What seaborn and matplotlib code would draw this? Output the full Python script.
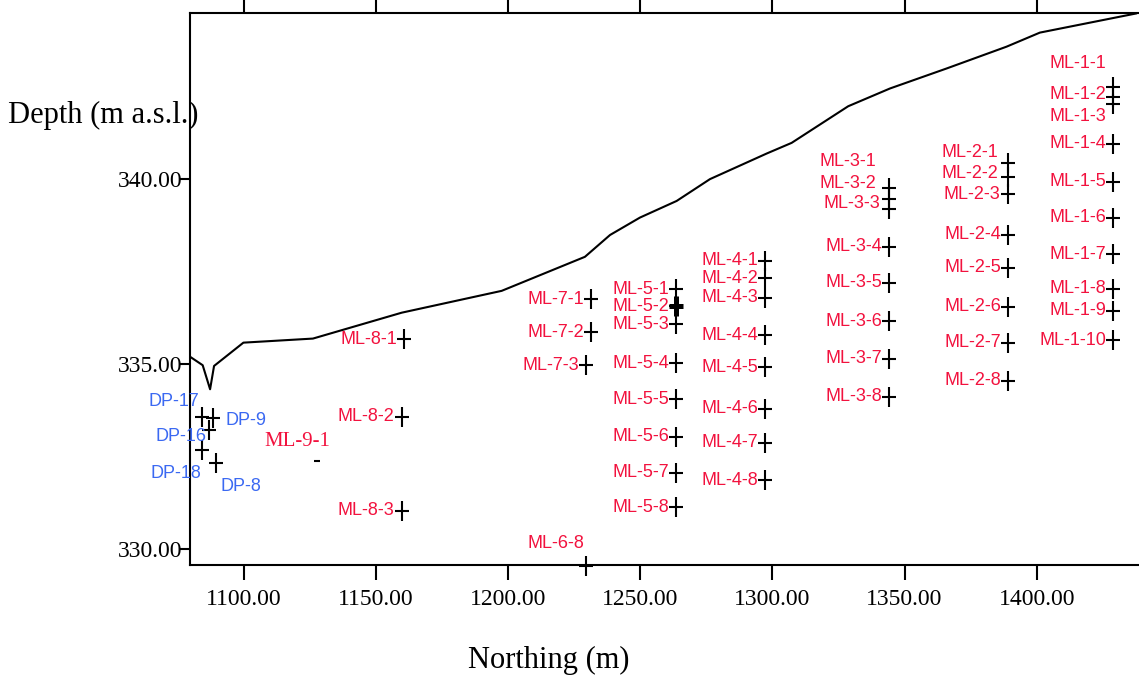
import matplotlib
matplotlib.use("Agg")
import matplotlib.pyplot as plt
import numpy as np
import pandas as pd
import seaborn as sns

# Ground surface along the section line
surface_northing = [1079.7, 1084.5, 1087.3, 1088.8, 1099.9, 1126.2, 1159.8, 1197.6,
                    1229.1, 1238.6, 1249.9, 1263.8, 1276.4, 1297.8, 1307.3, 1328.7,
                    1344.5, 1365.9, 1388.6, 1401.2, 1437.8]
surface_elev = [335.20, 334.97, 334.32, 334.95, 335.58, 335.69, 336.39, 336.98,
                337.90, 338.49, 338.96, 339.41, 340.00, 340.69, 340.98, 341.97,
                342.45, 342.99, 343.58, 343.96, 344.48]

# Multilevel sampler ports
ml_names = ["ML-1-1", "ML-1-2", "ML-1-3", "ML-1-4", "ML-1-5", "ML-1-6", "ML-1-7",
            "ML-1-8", "ML-1-9", "ML-1-10",
            "ML-2-1", "ML-2-2", "ML-2-3", "ML-2-4", "ML-2-5", "ML-2-6", "ML-2-7", "ML-2-8",
            "ML-3-1", "ML-3-2", "ML-3-3", "ML-3-4", "ML-3-5", "ML-3-6", "ML-3-7", "ML-3-8",
            "ML-4-1", "ML-4-2", "ML-4-3", "ML-4-4", "ML-4-5", "ML-4-6", "ML-4-7", "ML-4-8",
            "ML-5-1", "ML-5-2", "ML-5-3", "ML-5-4", "ML-5-5", "ML-5-6", "ML-5-7", "ML-5-8",
            "ML-6-8",
            "ML-7-1", "ML-7-2", "ML-7-3",
            "ML-8-1", "ML-8-2", "ML-8-3",
            "ML-9-1"]
ml_northing = [1428.9] * 10 + [1389.2] * 8 + [1344.3] * 8 + [1297.4] * 8 + [1263.6] * 8 + \
              [1229.5] + [1231.3, 1231.3, 1229.5] + [1160.6, 1159.8, 1159.8] + [1127.6]
ml_elev = [342.48, 342.22, 342.02, 340.96, 339.93, 338.96, 337.97, 337.04, 336.44, 335.65,
           340.44, 340.05, 339.59, 338.50, 337.61, 336.55, 335.58, 334.55,
           339.75, 339.45, 339.19, 338.17, 337.20, 336.16, 335.15, 334.12,
           337.79, 337.32, 336.80, 335.78, 334.91, 333.80, 332.87, 331.86,
           337.03, 336.57, 336.08, 335.02, 334.05, 333.04, 332.06, 331.13,
           329.55,
           336.75, 335.86, 334.97,
           335.67, 333.58, 331.04,
           332.38]

# Drive points
dp_names = ["DP-17", "DP-9", "DP-16", "DP-18", "DP-8"]
dp_northing = [1084.1, 1088.5, 1087.0, 1084.1, 1089.5]
dp_elev = [333.56, 333.53, 333.23, 332.67, 332.33]

x_ticks = [1100, 1150, 1200, 1250, 1300, 1350, 1400]
y_ticks = [330, 335, 340]

# Styling
RED = "#F2123E"
BLUE = "#3B69F2"
SANS = ["Liberation Sans", "DejaVu Sans"]
SERIF = ["Liberation Serif", "DejaVu Serif"]
dash_only = {"ML-9-1"}
heavy = {"ML-5-2"}

# Label placement: (dx, dy) in pixels, right/down positive, relative to the point
label_right = {
    "ML-1-1": (-7, -24), "ML-1-2": (-7, -2), "ML-1-3": (-7, 12),
    "ML-2-1": (-10, -10), "ML-2-2": (-10, -4), "ML-2-3": (-8, 0),
    "ML-3-1": (-13, -27), "ML-3-2": (-13, -16), "ML-3-3": (-9, -6),
    "ML-6-8": (-2, -22), "ML-9-1": (14, -20),
    "DP-17": (-2, -16), "DP-16": (-3, 7), "DP-18": (0, 23),
}
label_left = {"DP-9": (12, 2), "DP-8": (5, 24)}
default_offset = (-7, 0)

sns.set_style("ticks")
plt.rcParams["font.family"] = SERIF
plt.rcParams["text.color"] = "black"
plt.rcParams["axes.labelcolor"] = "black"
plt.rcParams["xtick.color"] = "black"
plt.rcParams["ytick.color"] = "black"

fig = plt.figure(figsize=(11.39, 6.85), dpi=100)
ax = fig.add_axes([190 / 1139, 1 - 565 / 685, 949 / 1139, 552 / 685])

ml = pd.DataFrame({"name": ml_names, "northing": ml_northing, "elev": ml_elev})
dp = pd.DataFrame({"name": dp_names, "northing": dp_northing, "elev": dp_elev})
crosses = pd.concat([ml[~ml["name"].isin(dash_only)], dp], ignore_index=True)

# Ground surface
sns.lineplot(x=surface_northing, y=surface_elev, sort=False, estimator=None,
             color="black", linewidth=1.5, ax=ax, zorder=2)

# Sample points drawn as tall crosses
V_SIZE = (19.5 * 0.72) ** 2
H_SIZE = (14.3 * 0.72) ** 2
for mk, sz in (("|", V_SIZE), ("_", H_SIZE)):
    sns.scatterplot(data=crosses, x="northing", y="elev", marker=mk, s=sz,
                    color="black", linewidth=1.5, ax=ax, clip_on=False,
                    zorder=3, legend=False)
    sns.scatterplot(data=crosses[crosses["name"].isin(heavy)], x="northing", y="elev",
                    marker=mk, s=sz * 0.95, color="black", linewidth=3.6, ax=ax,
                    clip_on=False, zorder=3, legend=False)
sns.scatterplot(data=ml[ml["name"].isin(dash_only)], x="northing", y="elev",
                marker="_", s=(6 * 0.72) ** 2, color="black", linewidth=1.5,
                ax=ax, zorder=3, legend=False)

# Point labels
for df, color in ((ml, RED), (dp, BLUE)):
    for name, xv, yv in zip(df["name"], df["northing"], df["elev"]):
        if name in label_left:
            dx, dy = label_left[name]
            ha = "left"
        else:
            dx, dy = label_right.get(name, default_offset)
            ha = "right"
        if name in dash_only:
            fam, fs = SERIF, 15
        else:
            fam, fs = SANS, 13
        ax.annotate(name, (xv, yv), xytext=(dx, -dy), textcoords="offset pixels",
                    ha=ha, va="center", fontsize=fs, color=color, family=fam,
                    annotation_clip=False, zorder=4)

ax.set_xlim(1079.7, 1438.7)
ax.set_ylim(329.57, 344.49)
ax.set_xticks(x_ticks, labels=[f"{v:.2f}" for v in x_ticks])
ax.set_yticks(y_ticks, labels=[f"{v:.2f}" for v in y_ticks])
ax.tick_params(axis="x", which="major", direction="out", length=11, width=1.5,
               top=True, bottom=True, labelsize=17, pad=6, color="black",
               labelcolor="black")
ax.tick_params(axis="y", which="major", direction="out", length=7.2, width=1.5,
               labelsize=17, pad=-2, color="black", labelcolor="black")
for side in ("left", "bottom", "top"):
    ax.spines[side].set_visible(True)
    ax.spines[side].set_linewidth(1.5)
    ax.spines[side].set_color("black")
ax.spines["right"].set_visible(False)

ax.set_xlabel("Northing (m)", fontsize=22, family=SERIF, color="black")
ax.xaxis.set_label_coords((548.5 - 190) / 949, (565 - 660) / 552)
ax.xaxis.label.set_va("center")
ax.set_ylabel("Depth (m a.s.l.)", fontsize=22, family=SERIF, rotation=0, color="black")
ax.yaxis.set_label_coords((103.5 - 190) / 949, (565 - 115) / 552)
ax.yaxis.label.set_va("center")
ax.yaxis.label.set_ha("center")

ax.grid(False)
fig.savefig("out.png", dpi=100)
